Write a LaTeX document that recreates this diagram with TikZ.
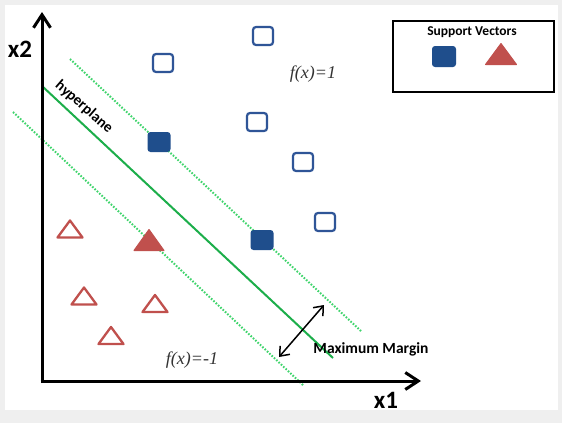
\documentclass[tikz,border=0pt]{standalone}
\usepackage{fontspec}
\setmainfont{Liberation Serif}
\newfontfamily\calfont{Carlito}
\usetikzlibrary{arrows.meta}
\definecolor{svblue}{HTML}{2F5597}
\definecolor{svbluefill}{HTML}{1F4E8C}
\definecolor{svred}{HTML}{C0504D}
\definecolor{hgreen}{HTML}{1CAE4A}
\definecolor{dgreen}{HTML}{3FD46C}
\definecolor{bggray}{HTML}{EFEFEF}
\definecolor{lblgray}{HTML}{333333}
\tikzset{
  sqr/.style={draw=svblue, line width=2.2pt, rounded corners=3pt, minimum width=20pt, minimum height=18pt, inner sep=0pt},
  sqrfill/.style={fill=svbluefill, rounded corners=3pt, minimum width=23pt, minimum height=20pt, inner sep=0pt},
  trihollow/.style={draw=svred, line width=2.3pt, line join=round},
  trifill/.style={fill=svred, draw=svred, line width=1pt, line join=round},
  axis/.style={line width=3pt, -{Straight Barb[length=13pt,width=17pt,line width=3pt]}},
  hyper/.style={hgreen, line width=2pt},
  margin/.style={dgreen, line width=2pt, dash pattern=on 1.6pt off 1.6pt},
  bold/.style={font=\calfont\bfseries},
  fx/.style={font=\fontsize{18}{20}\selectfont\itshape, text=lblgray, inner sep=0pt},
}
\begin{document}
\begin{tikzpicture}[x=1pt,y=-1pt]
\fill[bggray] (0,0) rectangle (562,423);
\fill[white] (5,5) rectangle (558,410);
\useasboundingbox (0,0) rectangle (562,423);

% margin lines
\coordinate (u1) at (70,59);  \coordinate (u2) at (362,332);
\coordinate (h1) at (42,86);  \coordinate (h2) at (333,358);
\coordinate (l1) at (13,112); \coordinate (l2) at (304,386);
\draw[margin] (u1) -- (u2);
\draw[margin] (l1) -- (l2);
\draw[hyper] (h1) -- (h2);

% axes
\coordinate (o) at (42,381);
\coordinate (ytip) at (42,12);
\coordinate (xtip) at (421,381);
\draw[axis] (42,383) -- (ytip);
\draw[axis] (40.5,381) -- (xtip);
\node[bold, font=\calfont\bfseries\fontsize{25}{27}\selectfont] (x2) at (20,49) {x2};
\node[bold, font=\calfont\bfseries\fontsize{25}{27}\selectfont] (x1) at (386,400) {x1};

% hyperplane label
\node[font=\calfont\bfseries\fontsize{15}{17}\selectfont, rotate=-41, inner sep=0pt] (hp) at (84,107) {hyperplane};

% squares
\node[sqr] (s1) at (163,63) {};
\node[sqr] (s2) at (263,36) {};
\node[sqr] (s3) at (257,122) {};
\node[sqr] (s4) at (303,162) {};
\node[sqr] (s5) at (325,222) {};
\node[sqrfill] (f1) at (159,142) {};
\node[sqrfill] (f2) at (262,240) {};

% triangles
\foreach \cx/\cy in {70/229, 84/296, 111/335.5, 155/303.5}{
  \draw[trihollow] (\cx,\cy-8.5) -- (\cx+12.5,\cy+8.5) -- (\cx-12.5,\cy+8.5) -- cycle;
}
\draw[trifill] (149,229.5) -- (164,250.5) -- (134,250.5) -- cycle;

% labels
\node[fx] (fp) at (313,74) {f(x)=1};
\node[fx] (fm) at (192,360) {f(x)=-1};

% maximum margin arrow
\coordinate (ma) at (279,357);
\coordinate (mb) at (324,305);
\draw[line width=1.5pt, {Straight Barb[length=8pt,width=13pt]}-{Straight Barb[length=8pt,width=13pt]}] (ma) -- (mb);
\node[font=\calfont\bfseries\fontsize{15.5}{17}\selectfont, inner sep=0pt] (mm) at (371,349) {Maximum Margin};

% legend
\node[draw=black, line width=2pt, minimum width=161pt, minimum height=71pt, inner sep=0pt] (leg) at (473.5,56.5) {};
\node[font=\calfont\bfseries\fontsize{13.5}{15}\selectfont, inner sep=0pt] (legt) at (472,32) {Support Vectors};
\node[sqrfill, minimum width=24pt, minimum height=21pt] (legs) at (444,56.5) {};
\draw[trifill] (501,43.5) -- (516.5,64.5) -- (485.5,64.5) -- cycle;
\end{tikzpicture}
\end{document}
